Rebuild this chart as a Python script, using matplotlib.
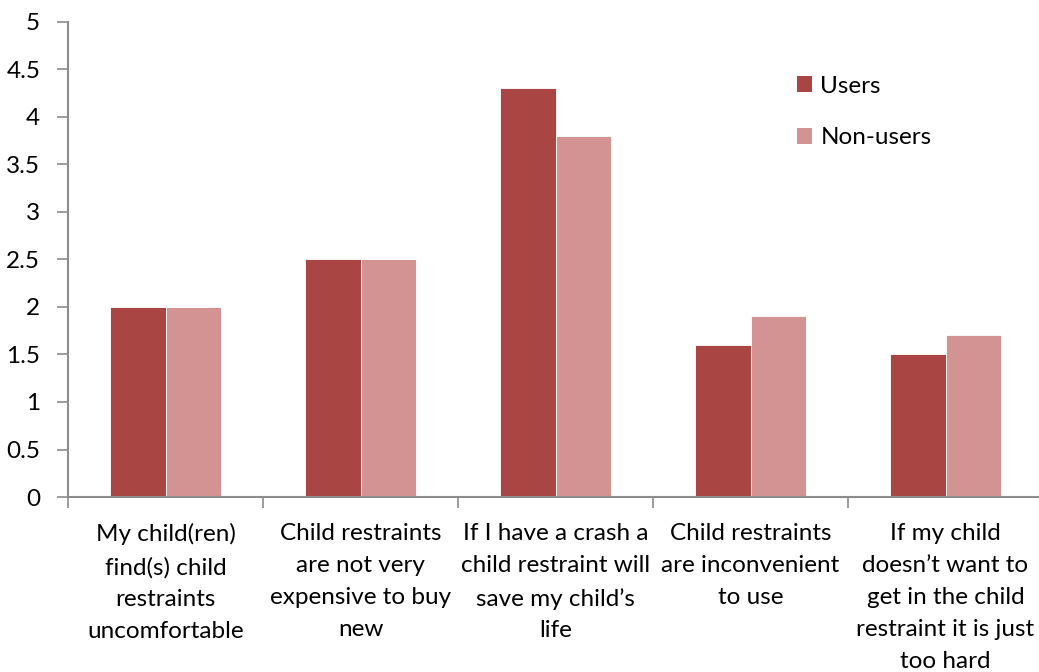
import numpy as np
import matplotlib.pyplot as plt
from matplotlib.patches import Patch

plt.rcParams['font.family'] = ['Lato', 'DejaVu Sans']

categories = [
    "My child(ren)\nfind(s) child\nrestraints\nuncomfortable",
    "Child restraints\nare not very\nexpensive to buy\nnew",
    "If I have a crash a\nchild restraint will\nsave my child\u2019s\nlife",
    "Child restraints\nare inconvenient\nto use",
    "If my child\ndoesn\u2019t want to\nget in the child\nrestraint it is just\ntoo hard",
]
users = [2.0, 2.5, 4.3, 1.6, 1.5]
non_users = [2.0, 2.5, 3.8, 1.9, 1.7]
series_names = ["Users", "Non-users"]
yticks = [0, 0.5, 1, 1.5, 2, 2.5, 3, 3.5, 4, 4.5, 5]

c_users = "#A94644"
c_non = "#D39392"
axis_grey = "#8C8C8C"
fs = 17.5

fig = plt.figure(figsize=(10.39, 6.72), dpi=100)
ax = fig.add_axes([68 / 1039, 175 / 672, 975 / 1039, 475 / 672])

x = np.arange(len(categories))
w = 1 / 3.5
ax.bar(x - w / 2, users, w, color=c_users, edgecolor="white", linewidth=0.6)
ax.bar(x + w / 2, non_users, w, color=c_non, edgecolor="white", linewidth=0.6)

ax.set_xlim(-0.5, len(categories) - 0.5)
ax.set_ylim(0, 5)
ax.set_yticks(yticks)
ax.set_yticklabels([f"{v:g}" for v in yticks], fontsize=fs)

ax.set_xticks(x)
ax.set_xticklabels(categories, fontsize=fs, linespacing=1.64, va="top")
ax.set_xticks(np.arange(-0.5, len(categories)), minor=True)
ax.tick_params(axis="x", which="major", length=0, pad=19)
ax.tick_params(axis="x", which="minor", length=8, color=axis_grey, width=1.2)
ax.tick_params(axis="y", length=8, color=axis_grey, width=1.2, pad=12)

for side in ["top", "right"]:
    ax.spines[side].set_visible(False)
for side in ["left", "bottom"]:
    ax.spines[side].set_color(axis_grey)
    ax.spines[side].set_linewidth(1.5)

handles = [Patch(facecolor=c_users), Patch(facecolor=c_non)]
fig.legend(handles, series_names, loc="upper left",
           bbox_to_anchor=(775 / 1039, 1 - 54 / 672), frameon=False,
           fontsize=fs, handlelength=0.62, handleheight=0.62,
           handletextpad=0.35, labelspacing=1.25)

fig.savefig("out.png", dpi=100)
